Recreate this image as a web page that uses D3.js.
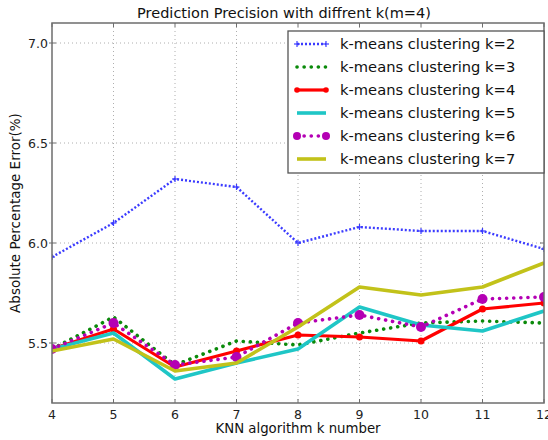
<!DOCTYPE html>
<html>
<head>
<meta charset="utf-8">
<script src="https://cdn.jsdelivr.net/npm/d3@7"></script>
<style>
  body { margin: 0; background: #fff; }
  svg { display: block; font-family: "DejaVu Sans", sans-serif; }
  .tick-label { font-size: 12.5px; fill: #222; }
  .legend-label { font-size: 14.7px; fill: #111; }
</style>
</head>
<body>
<div id="chart"></div>
<script>
// values
const kValues = [4, 5, 6, 7, 8, 9, 10, 11, 12];
const err_k2 = [5.93, 6.10, 6.32, 6.28, 6.00, 6.08, 6.06, 6.06, 5.97];
const err_k3 = [5.47, 5.63, 5.39, 5.51, 5.49, 5.55, 5.60, 5.61, 5.60];
const err_k4 = [5.47, 5.57, 5.38, 5.46, 5.54, 5.53, 5.51, 5.67, 5.70];
const err_k5 = [5.47, 5.55, 5.32, 5.40, 5.47, 5.68, 5.59, 5.56, 5.66];
const err_k6 = [5.47, 5.60, 5.39, 5.43, 5.60, 5.64, 5.58, 5.72, 5.73];
const err_k7 = [5.46, 5.52, 5.36, 5.40, 5.58, 5.78, 5.74, 5.78, 5.90];
const yTicks = [5.5, 6.0, 6.5, 7.0];
const seriesNames = [
  "k-means clustering k=2", "k-means clustering k=3", "k-means clustering k=4",
  "k-means clustering k=5", "k-means clustering k=6", "k-means clustering k=7"
];

const STYLES = [
  { color: "#3b3bff", width: 2.4, dash: "2,2", cap: "butt", marker: "plus" },
  { color: "#0a8a0a", width: 3.6, dash: "0.1,7", cap: "round", marker: null },
  { color: "#ff0000", width: 3.2, dash: null, cap: "butt", marker: "dot", r: 3.5 },
  { color: "#1fc6c6", width: 3.6, dash: null, cap: "butt", marker: null },
  { color: "#b400b4", width: 3.6, dash: "0.1,7", cap: "round", marker: "dot", r: 5 },
  { color: "#c2c21a", width: 3.6, dash: null, cap: "butt", marker: null }
];
const allSeries = [err_k2, err_k3, err_k4, err_k5, err_k6, err_k7];

const W = 548, H = 440;
const M = { top: 23, right: 4, bottom: 37, left: 52 };
const iW = W - M.left - M.right;
const iH = H - M.top - M.bottom;

const svg = d3.select("#chart").append("svg")
  .attr("width", W).attr("height", H);

const g = svg.append("g").attr("transform", `translate(${M.left},${M.top})`);

const x = d3.scaleLinear().domain([4, 12]).range([0, iW]);
const y = d3.scaleLinear().domain([5.2, 7.1]).range([iH, 0]);

svg.append("defs").append("clipPath").attr("id", "plot-clip")
  .append("rect").attr("width", iW).attr("height", iH);

// grid
g.append("g").selectAll("line").data(kValues.slice(1, -1)).join("line")
  .attr("x1", d => x(d)).attr("x2", d => x(d)).attr("y1", 0).attr("y2", iH)
  .attr("stroke", "#9a9a9a").attr("stroke-width", 0.8).attr("stroke-dasharray", "1,3");
g.append("g").selectAll("line").data(yTicks).join("line")
  .attr("y1", d => y(d)).attr("y2", d => y(d)).attr("x1", 0).attr("x2", iW)
  .attr("stroke", "#9a9a9a").attr("stroke-width", 0.8).attr("stroke-dasharray", "1,3");

// series
const lineGen = d3.line().x(d => x(d[0])).y(d => y(d[1]));
const plotG = g.append("g").attr("clip-path", "url(#plot-clip)");

allSeries.forEach((vals, i) => {
  const st = STYLES[i];
  const pts = kValues.map((k, j) => [k, vals[j]]);
  plotG.append("path").datum(pts)
    .attr("d", lineGen)
    .attr("fill", "none")
    .attr("stroke", st.color)
    .attr("stroke-width", st.width)
    .attr("stroke-linecap", st.cap)
    .attr("stroke-linejoin", "round")
    .attr("stroke-dasharray", st.dash);
  drawMarkers(plotG, pts.map(p => [x(p[0]), y(p[1])]), st);
});

function drawMarkers(sel, coords, st) {
  if (st.marker === "dot") {
    sel.append("g").selectAll("circle").data(coords).join("circle")
      .attr("cx", d => d[0]).attr("cy", d => d[1]).attr("r", st.r)
      .attr("fill", st.color);
  } else if (st.marker === "plus") {
    const mg = sel.append("g").attr("stroke", st.color).attr("stroke-width", 1.2);
    coords.forEach(([cx, cy]) => {
      mg.append("line").attr("x1", cx - 3).attr("x2", cx + 3).attr("y1", cy).attr("y2", cy);
      mg.append("line").attr("x1", cx).attr("x2", cx).attr("y1", cy - 3).attr("y2", cy + 3);
    });
  }
}

// frame + inward ticks
g.append("rect").attr("width", iW).attr("height", iH)
  .attr("fill", "none").attr("stroke", "#6e6e6e").attr("stroke-width", 1.5);

const tickG = g.append("g").attr("stroke", "#6e6e6e").attr("stroke-width", 1);
kValues.forEach(k => {
  tickG.append("line").attr("x1", x(k)).attr("x2", x(k)).attr("y1", iH).attr("y2", iH - 4);
  tickG.append("line").attr("x1", x(k)).attr("x2", x(k)).attr("y1", 0).attr("y2", 4);
});
yTicks.forEach(v => {
  tickG.append("line").attr("x1", -3).attr("x2", 4).attr("y1", y(v)).attr("y2", y(v));
  tickG.append("line").attr("x1", iW).attr("x2", iW - 4).attr("y1", y(v)).attr("y2", y(v));
});

g.append("g").selectAll("text").data(kValues).join("text")
  .attr("class", "tick-label")
  .attr("x", d => x(d)).attr("y", iH + 16)
  .attr("text-anchor", "middle")
  .text(d => d);

g.append("g").selectAll("text").data(yTicks).join("text")
  .attr("class", "tick-label")
  .attr("x", -4).attr("y", d => y(d) + 4.5)
  .attr("text-anchor", "end")
  .text(d3.format(".1f"));

// titles
svg.append("text")
  .attr("x", M.left + iW / 2 - 14).attr("y", 18)
  .attr("text-anchor", "middle")
  .attr("font-size", 14.5).attr("fill", "#111")
  .text("Prediction Precision with diffrent k(m=4)");

svg.append("text")
  .attr("x", M.left + iW / 2).attr("y", 433)
  .attr("text-anchor", "middle")
  .attr("font-size", 13.3).attr("fill", "#111")
  .text("KNN algorithm k number");

svg.append("text")
  .attr("transform", `translate(20,${M.top + iH / 2}) rotate(-90)`)
  .attr("text-anchor", "middle")
  .attr("font-size", 13.5).attr("fill", "#111")
  .text("Absolute Percentage Error(%)");

// legend
const legX = 288, legY = 31, legW = 256, legH = 142, rowH = 23;
const leg = svg.append("g");
leg.append("rect")
  .attr("x", legX).attr("y", legY).attr("width", legW).attr("height", legH)
  .attr("fill", "#fff").attr("stroke", "#555").attr("stroke-width", 1.3);

seriesNames.forEach((name, i) => {
  const st = STYLES[i];
  const cy = legY + 13 + i * rowH;
  const x1 = legX + 9, x2 = legX + 38;
  leg.append("line")
    .attr("x1", x1).attr("x2", x2).attr("y1", cy).attr("y2", cy)
    .attr("stroke", st.color).attr("stroke-width", st.width)
    .attr("stroke-linecap", st.cap)
    .attr("stroke-dasharray", st.dash);
  drawMarkers(leg, [[x1, cy], [x2, cy]], { ...st, r: st.r ? st.r * 0.8 : 0 });
  leg.append("text").attr("class", "legend-label")
    .attr("x", legX + 52).attr("y", cy + 5)
    .text(name);
});
</script>
</body>
</html>
